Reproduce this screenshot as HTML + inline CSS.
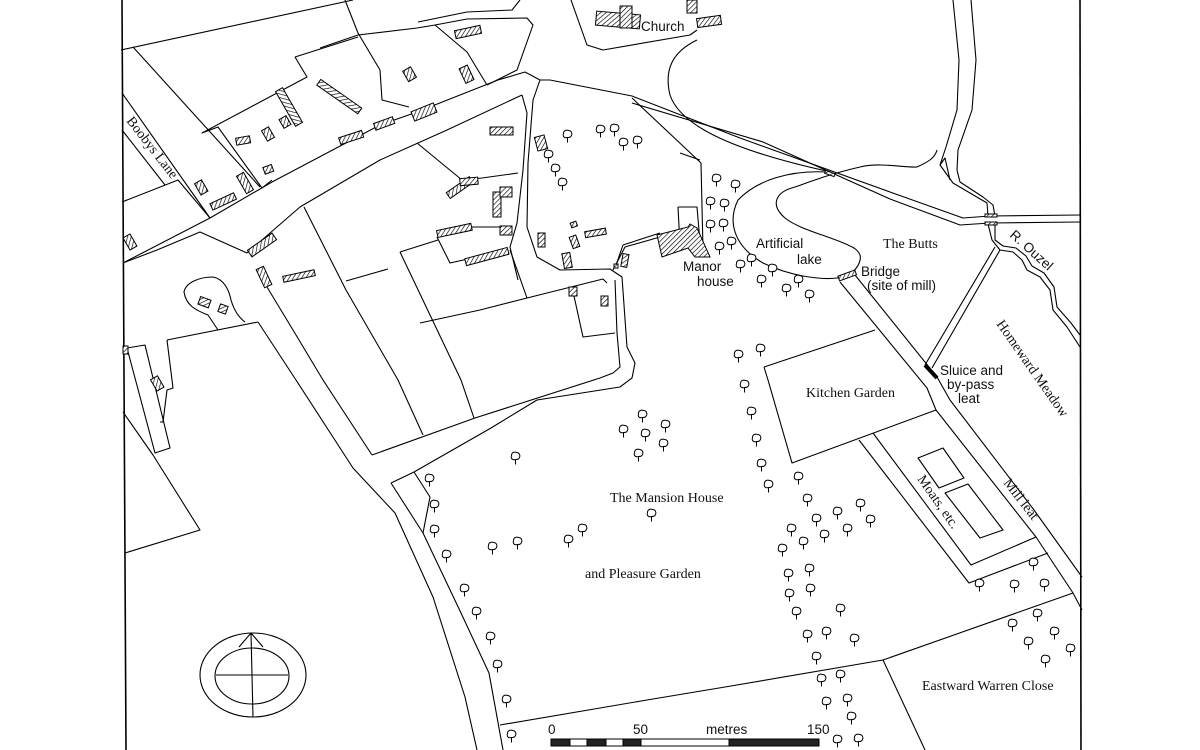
<!DOCTYPE html>
<html><head><meta charset="utf-8"><style>
html,body{margin:0;padding:0;background:#fff;}
svg{display:block;}
.s{font-family:"Liberation Sans",sans-serif;font-size:13.5px;fill:#111;}
.r{font-family:"Liberation Serif",serif;font-size:14px;fill:#111;}
</style></head><body>
<svg width="1200" height="750" viewBox="0 0 1200 750" xmlns="http://www.w3.org/2000/svg">
<defs>
<pattern id="h" patternUnits="userSpaceOnUse" width="3.5" height="3.5" patternTransform="rotate(45)">
<rect width="3.5" height="3.5" fill="#fff"/><line x1="0" y1="0" x2="0" y2="3.5" stroke="#000" stroke-width="1.3"/></pattern>
<g id="t" fill="#fff" stroke="#000" stroke-width="1"><path d="M-0.5,-0.5 c-3,1 -5,-1 -4,-4 c0,-3 3,-4 5,-3 c3,0 4,3 3,5 c-1,2 -2,2 -4,2z"/><path d="M-0.5,-0.5 v5" fill="none"/></g>
</defs>
<rect width="1200" height="750" fill="#fff"/>
<g fill="none" stroke="#000" stroke-width="1.1" stroke-linejoin="round">
<!-- frame -->
<path d="M122,0 L126,750" stroke-width="1.6"/>
<path d="M1080,0 L1081,750" stroke-width="1.6"/>
<!-- top left fields -->
<path d="M121,50 L353,0"/>
<path d="M133,47 L260,187"/>
<path d="M122,93 L210,218 L123,263"/>
<path d="M122,130 L165,185"/>
<path d="M122,202 L178,180 L210,218"/>
<path d="M345,0 L358,33 L380,70 L382,100 L409,107"/>
<path d="M320,48 L358,35 L417,28 L435,25 L467,19 L527,18 L533,25 L517,70 L487,85"/>
<path d="M435,25 L467,52 L487,85"/>
<path d="M418,22 L467,12 L512,10 L520,0"/>
<path d="M295,57 L358,37"/>
<path d="M295,57 L307,77 L202,133 L218,127 L262,188 L272,180"/>
<!-- main road -->
<path d="M210,218 L272,182 L380,125 L417,112 L498,80 L525,72 L540,80 L550,80 L632,96 L740,138 L890,192 L963,218 L990,216 L1080,215"/>
<path d="M123,263 L157,250 L200,232 L247,253"/>
<path d="M247,253 L300,207 L380,160 L447,130 L522,95"/>
<path d="M632,103 L763,142 L890,199 L960,225 L990,223 L1080,222"/>
<!-- vertical lane -->
<path d="M522,95 L527,113 L523,170 L517,223 L510,247 L518,280"/>
<path d="M540,80 L533,100 L528,163 L527,227 L537,257 L560,270 L610,269 L622,277 L627,347 L635,363 L632,378 L620,387 L537,400 L491,428 L414,472 L391,483"/>
<path d="M615,280 L617,333 L620,367 L613,373 L600,378 L475,418 L372,455"/>
<path d="M615,268 L623,245 L660,233"/>
<!-- fields middle -->
<path d="M417,143 L462,180 L482,178 L518,173"/>
<path d="M437,237 L450,263 L508,250"/>
<path d="M470,227 L510,227"/>
<path d="M400,252 L438,240"/>
<path d="M400,252 L461,380 L474,418"/>
<path d="M346,281 L388,269"/>
<path d="M304,207 L346,290 L398,380 L423,435"/>
<path d="M480,310 L527,298 L603,279 L607,283"/>
<path d="M510,250 L527,298"/>
<path d="M572,287 L583,337 L615,333"/>
<path d="M420,323 L480,310"/>
<!-- lane south -->
<path d="M267,287 L296,335 L323,380 L372,455"/>
<path d="M258,322 L296,380 L353,468 L395,513 L433,597 L465,697 L477,750"/>
<path d="M391,483 L423,533 L461,613 L489,673 L503,750"/>
<path d="M414,472 L430,497 L423,533"/>
<!-- teardrop & left -->
<path d="M218,330 L208,315 C195,310 186,305 184,292 C186,282 200,277 213,277 C224,279 229,290 231,300 C234,310 238,317 245,322"/>
<path d="M167,340 L258,322"/>
<path d="M167,340 L173,388 L167,390 L163,422 L160,422"/>
<path d="M127,348 L145,345 L170,448 L155,453 Z"/>
<path d="M123,412 L153,455 L200,530 L125,553"/>
<!-- church area -->
<path d="M571,0 L587,45 L603,50 L690,35 L697,30"/>
<path d="M697,40 C672,52 664,70 670,95 C680,125 730,150 831,172"/>
<path d="M632,98 L701,163 L703,250"/>
<path d="M680,153 L700,160"/>
<path d="M678,207 L697,207 L700,242"/>
<path d="M678,207 L680,246"/>
<path d="M613,270 L625,247 L660,237"/>
<!-- lake -->
<path d="M827,172 C790,170 757,180 738,200 C728,220 732,245 763,263 C790,276 820,280 837,278 C855,276 862,262 860,255 C858,250 853,247 850,246"/>
<path d="M850,246 C830,236 800,230 785,218 C770,205 775,192 795,187 C815,180 830,174 860,167"/>
<path d="M860,167 C880,162 905,168 917,167 C928,162 935,158 937,150"/>
<!-- river top -->
<path d="M953,0 L959,60 L957,110 L946,147 L940,165 L953,183 L987,203 L988,216"/>
<path d="M971,0 L976,60 L972,110 L958,150 L957,170 L960,182 L983,197 L993,205 L995,216"/>
<path d="M940,165 L945,158 L950,180"/>
<!-- river below road -->
<path d="M988,224 L992,240 L1000,250 L1013,252 L1022,260 L1027,270 L1040,277 L1050,290 L1053,310 L1067,327 L1080,347"/>
<path d="M995,224 L995,240 L1003,246 L1016,248 L1026,256 L1032,266 L1044,273 L1054,287 L1057,307 L1071,323 L1080,335"/>
<!-- sluice/bypass -->
<path d="M995,247 L925,365"/>
<path d="M1000,250 L932,368"/>
<path d="M925,365 L937,378" stroke-width="4"/>
<!-- mill leat -->
<path d="M840,282 L927,388 L936,410 L1036,537 L1073,593 L1082,610"/>
<path d="M855,275 L937,377 L950,400 L1034,510 L1082,577"/>
<!-- kitchen garden -->
<path d="M764,367 L875,330"/>
<path d="M768,380 L792,463 L936,410"/>
<path d="M764,367 L768,380"/>
<!-- moats -->
<path d="M859,440 L969,583 L1048,553"/>
<path d="M873,433 L971,565 L1036,537"/>
<path d="M918,458 L943,448 L964,478 L939,488 Z"/>
<path d="M945,493 L968,484 L1003,530 L980,538 Z"/>
<!-- long boundary -->
<path d="M500,725 L647,700 L725,687 L883,660 L1073,593"/>
<path d="M883,660 L925,750"/>
<!-- compass -->
<ellipse cx="253" cy="675" rx="53" ry="42"/>
<ellipse cx="252" cy="676" rx="37" ry="28"/>
<path d="M251,633 L253,717 M216,675 L288,675 M239,647 L251,633 L263,647"/>
</g>
<!-- bridges -->
<g fill="url(#h)" stroke="#000" stroke-width="1">
<rect x="838" y="273" width="18" height="5" transform="rotate(-20 847 275)"/>
<rect x="985" y="214" width="12" height="3"/>
<rect x="985" y="222" width="12" height="3"/>
<rect x="825" y="172" width="10" height="3" transform="rotate(20 830 173)"/>
</g>
<!-- buildings -->
<g fill="url(#h)" stroke="#000" stroke-width="1">
<rect x="455" y="28" width="26" height="8" transform="rotate(-12 468 32)"/>
<rect x="405" y="68" width="9" height="12" transform="rotate(-30 410 74)"/>
<rect x="462" y="66" width="9" height="16" transform="rotate(-25 467 74)"/>
<rect x="314" y="93" width="50" height="7" transform="rotate(35 339 97)"/>
<rect x="269" y="103" width="40" height="8" transform="rotate(60 289 107)"/>
<rect x="412" y="107" width="24" height="10" transform="rotate(-22 424 112)"/>
<rect x="374" y="120" width="20" height="7" transform="rotate(-20 384 123)"/>
<rect x="339" y="134" width="24" height="7" transform="rotate(-18 351 137)"/>
<rect x="281" y="117" width="8" height="10" transform="rotate(-30 285 122)"/>
<rect x="236" y="137" width="14" height="7" transform="rotate(-10 243 140)"/>
<rect x="264" y="128" width="8" height="12" transform="rotate(-30 268 134)"/>
<rect x="264" y="166" width="9" height="7" transform="rotate(-20 268 170)"/>
<rect x="197" y="181" width="8" height="13" transform="rotate(-30 201 187)"/>
<rect x="241" y="173" width="8" height="20" transform="rotate(-30 245 183)"/>
<rect x="210" y="198" width="26" height="7" transform="rotate(-25 223 201)"/>
<rect x="126" y="235" width="8" height="14" transform="rotate(-30 130 242)"/>
<rect x="247" y="241" width="30" height="8" transform="rotate(-35 262 245)"/>
<rect x="260" y="267" width="8" height="20" transform="rotate(-25 264 277)"/>
<rect x="283" y="273" width="32" height="6" transform="rotate(-12 299 276)"/>
<rect x="199" y="298" width="11" height="8" transform="rotate(20 204 302)"/>
<rect x="219" y="305" width="8" height="8" transform="rotate(20 223 309)"/>
<rect x="123" y="346" width="5" height="8"/>
<rect x="153" y="377" width="8" height="13" transform="rotate(-30 157 383)"/>
<rect x="490" y="127" width="23" height="8"/>
<rect x="536" y="136" width="10" height="14" transform="rotate(-15 541 143)"/>
<rect x="446" y="184" width="28" height="7" transform="rotate(-35 460 188)"/>
<rect x="460" y="178" width="18" height="7" transform="rotate(-5 468 182)"/>
<rect x="493" y="192" width="8" height="25"/>
<rect x="500" y="187" width="12" height="10"/>
<rect x="437" y="227" width="35" height="7" transform="rotate(-12 454 231)"/>
<rect x="465" y="253" width="44" height="7" transform="rotate(-15 487 257)"/>
<rect x="500" y="226" width="12" height="9"/>
<rect x="538" y="233" width="7" height="14"/>
<rect x="563" y="253" width="8" height="15" transform="rotate(-10 567 260)"/>
<rect x="571" y="236" width="7" height="12" transform="rotate(-20 574 242)"/>
<rect x="585" y="230" width="21" height="6" transform="rotate(-10 595 233)"/>
<rect x="571" y="222" width="6" height="5" transform="rotate(-20 574 225)"/>
<rect x="622" y="254" width="6" height="13" transform="rotate(10 625 260)"/>
<rect x="614" y="264" width="4" height="4"/>
<rect x="569" y="287" width="8" height="9"/>
<rect x="601" y="296" width="7" height="10"/>
<!-- church -->
<rect x="596" y="13" width="44" height="14" transform="rotate(5 618 20)"/>
<rect x="620" y="6" width="12" height="22"/>
<rect x="687" y="0" width="10" height="13"/>
<rect x="697" y="17" width="24" height="9" transform="rotate(-8 709 21)"/>
<!-- manor -->
<path d="M657,235 L688,227 L690,224 L697,228 L710,257 L695,257 L688,248 L662,257 Z"/>
</g>
<!-- trees -->
<g>
<use href="#t" x="568" y="138"/><use href="#t" x="601" y="133"/><use href="#t" x="615" y="132"/><use href="#t" x="624" y="146"/><use href="#t" x="638" y="144"/>
<use href="#t" x="549" y="158"/><use href="#t" x="556" y="172"/><use href="#t" x="563" y="186"/>
<use href="#t" x="717" y="182"/><use href="#t" x="736" y="188"/><use href="#t" x="711" y="205"/><use href="#t" x="725" y="207"/><use href="#t" x="711" y="228"/><use href="#t" x="724" y="227"/><use href="#t" x="720" y="250"/><use href="#t" x="732" y="245"/><use href="#t" x="752" y="262"/><use href="#t" x="741" y="268"/><use href="#t" x="762" y="283"/><use href="#t" x="773" y="272"/><use href="#t" x="787" y="292"/><use href="#t" x="799" y="283"/><use href="#t" x="810" y="298"/>
<use href="#t" x="739" y="358"/><use href="#t" x="761" y="352"/><use href="#t" x="745" y="388"/><use href="#t" x="752" y="415"/><use href="#t" x="757" y="442"/><use href="#t" x="762" y="467"/><use href="#t" x="769" y="488"/><use href="#t" x="799" y="480"/><use href="#t" x="808" y="502"/><use href="#t" x="817" y="522"/><use href="#t" x="838" y="515"/><use href="#t" x="861" y="507"/><use href="#t" x="871" y="523"/><use href="#t" x="848" y="532"/><use href="#t" x="825" y="538"/><use href="#t" x="804" y="545"/><use href="#t" x="792" y="532"/><use href="#t" x="783" y="552"/><use href="#t" x="789" y="577"/><use href="#t" x="810" y="572"/><use href="#t" x="790" y="597"/><use href="#t" x="811" y="592"/><use href="#t" x="797" y="615"/><use href="#t" x="841" y="612"/><use href="#t" x="808" y="638"/><use href="#t" x="827" y="635"/><use href="#t" x="855" y="642"/><use href="#t" x="817" y="660"/><use href="#t" x="822" y="682"/><use href="#t" x="841" y="678"/><use href="#t" x="827" y="705"/><use href="#t" x="848" y="702"/><use href="#t" x="852" y="720"/><use href="#t" x="838" y="743"/><use href="#t" x="859" y="742"/>
<use href="#t" x="643" y="418"/><use href="#t" x="624" y="433"/><use href="#t" x="646" y="437"/><use href="#t" x="666" y="428"/><use href="#t" x="664" y="447"/><use href="#t" x="639" y="457"/><use href="#t" x="652" y="517"/><use href="#t" x="583" y="532"/><use href="#t" x="569" y="543"/><use href="#t" x="516" y="460"/><use href="#t" x="493" y="550"/><use href="#t" x="518" y="545"/>
<use href="#t" x="430" y="482"/><use href="#t" x="435" y="508"/><use href="#t" x="435" y="533"/><use href="#t" x="447" y="558"/><use href="#t" x="465" y="592"/><use href="#t" x="477" y="615"/><use href="#t" x="491" y="640"/><use href="#t" x="498" y="668"/><use href="#t" x="507" y="703"/><use href="#t" x="512" y="738"/>
<use href="#t" x="980" y="587"/><use href="#t" x="1015" y="588"/><use href="#t" x="1045" y="587"/><use href="#t" x="1034" y="566"/><use href="#t" x="1013" y="627"/><use href="#t" x="1038" y="617"/><use href="#t" x="1055" y="635"/><use href="#t" x="1029" y="645"/><use href="#t" x="1071" y="652"/><use href="#t" x="1046" y="663"/>
</g>
<!-- scale bar -->
<g stroke="#000" stroke-width="1">
<rect x="551" y="739" width="268" height="7" fill="#fff"/>
<rect x="551" y="739" width="19" height="7" fill="#222"/>
<rect x="587" y="739" width="19" height="7" fill="#222"/>
<rect x="623" y="739" width="18" height="7" fill="#222"/>
<rect x="729" y="739" width="90" height="7" fill="#222"/>
</g>
<!-- labels -->
<text class="s" x="548" y="734">0</text>
<text class="s" x="633" y="734">50</text>
<text class="s" x="706" y="734">metres</text>
<text class="s" x="807" y="734">150</text>
<text class="s" x="641" y="31">Church</text>
<text class="s" x="756" y="248">Artificial</text>
<text class="s" x="797" y="264">lake</text>
<text class="s" x="683" y="271">Manor</text>
<text class="s" x="697" y="286">house</text>
<text class="s" x="861" y="276">Bridge</text>
<text class="s" x="867" y="290">(site of mill)</text>
<text class="s" x="940" y="375">Sluice and</text>
<text class="s" x="947" y="389">by-pass</text>
<text class="s" x="958" y="403">leat</text>
<text class="s" transform="translate(1009,236) rotate(42)">R. Ouzel</text>
<text class="r" x="883" y="248">The Butts</text>
<text class="r" x="806" y="397">Kitchen Garden</text>
<text class="r" x="610" y="502">The Mansion House</text>
<text class="r" x="585" y="578">and Pleasure Garden</text>
<text class="r" x="922" y="690">Eastward Warren Close</text>
<text class="r" font-size="12" transform="translate(126,121) rotate(52)">Boobys Lane</text>
<text class="r" font-size="12" transform="translate(996,324) rotate(55)">Homeward Meadow</text>
<text class="r" font-size="12" transform="translate(917,479) rotate(55)">Moats, etc.</text>
<text class="r" font-size="12" transform="translate(1003,483) rotate(52)">Mill leat</text>
</svg>
</body></html>
